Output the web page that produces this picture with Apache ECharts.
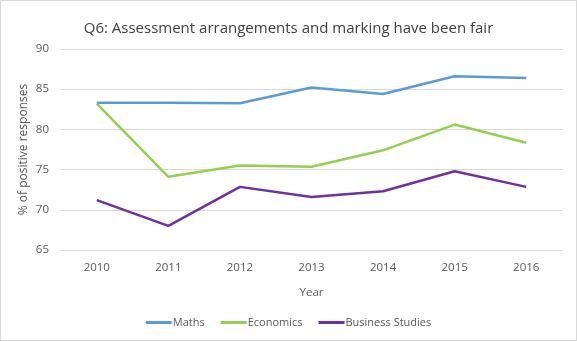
<!DOCTYPE html>
<html><head><meta charset="utf-8">
<script src="https://cdn.jsdelivr.net/npm/echarts@6/dist/echarts.min.js"></script>
<style>html,body{margin:0;padding:0;background:#fff}#c{position:absolute;left:0;top:0;width:575px;height:339px;border:1px solid #d9d9d9}</style>
</head><body><div id="c"></div>
<script>
const years = ['2010','2011','2012','2013','2014','2015','2016'];
const maths = [83.3, 83.3, 83.25, 85.2, 84.4, 86.6, 86.4];
const economics = [83.2, 74.1, 75.5, 75.35, 77.4, 80.6, 78.35];
const business = [71.2, 68.0, 72.85, 71.6, 72.3, 74.8, 72.85];
const chart = echarts.init(document.getElementById('c'));
const font = 'Open Sans, Liberation Sans, sans-serif';
const mk = (name, data, color) => ({name, type:'line', data, symbol:'none', lineStyle:{color, width:2.5}, itemStyle:{color}});
chart.setOption({
  animation:false,
  title:{text:'Q6: Assessment arrangements and marking have been fair', left:'center', top:15,
    textStyle:{fontFamily:font, fontSize:15, fontWeight:'normal', color:'#404040'}},
  grid:{left:60, right:14, top:48, bottom:90},
  xAxis:{type:'category', data:years, boundaryGap:true, name:'Year', nameLocation:'middle', nameGap:37,
    nameTextStyle:{fontFamily:font, fontSize:11.5, color:'#595959'},
    axisLine:{lineStyle:{color:'#d9d9d9'}}, axisTick:{show:false},
    axisLabel:{fontFamily:font, fontSize:11.5, color:'#595959', margin:12}},
  yAxis:{type:'value', min:65, max:90, interval:5, name:'% of positive responses', nameLocation:'middle', nameGap:31,
    nameMoveOverlap:false,
    nameTextStyle:{fontFamily:font, fontSize:12, color:'#595959'},
    axisLine:{show:false}, axisTick:{show:false},
    axisLabel:{fontFamily:font, fontSize:11.5, color:'#595959', margin:12},
    splitLine:{lineStyle:{color:'#d9d9d9'}}},
  legend:{bottom:7, left:'center', icon:'rect', itemWidth:26, itemHeight:3, itemGap:16,
    textStyle:{fontFamily:font, fontSize:11, color:'#595959', padding:[0,0,0,-4]}},
  series:[mk('Maths', maths, '#5B9BD5'), mk('Economics', economics, '#92D050'), mk('Business Studies', business, '#7030A0')]
});
</script></body></html>
